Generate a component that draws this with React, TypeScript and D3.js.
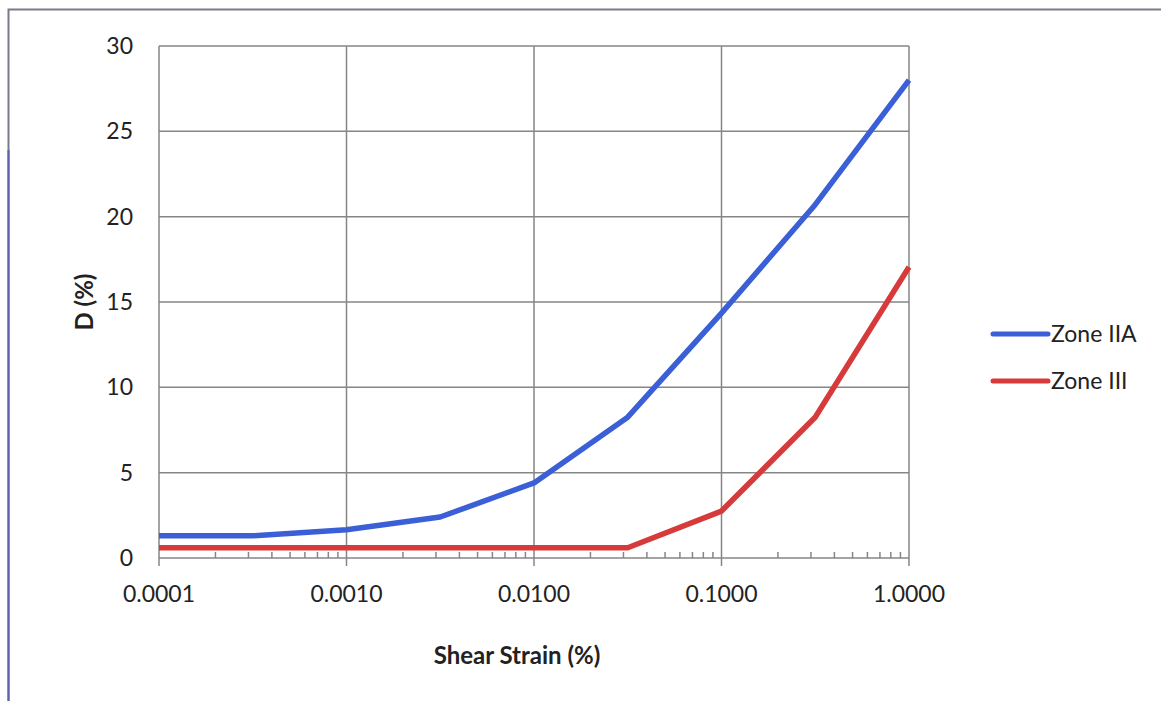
import React, { useEffect, useRef } from 'react';
import * as d3 from 'd3';

// strain values at half-decade steps (%)
const strains = [0.0001, 0.000316, 0.001, 0.00316, 0.01, 0.0316, 0.1, 0.316, 1];
const zoneIIA = [1.3, 1.3, 1.65, 2.4, 4.4, 8.25, 14.35, 20.7, 28.0];
const zoneIII = [0.6, 0.6, 0.6, 0.6, 0.6, 0.6, 2.75, 8.25, 17.05];
const xTicks = [0.0001, 0.001, 0.01, 0.1, 1];
const xTickLabels = ['0.0001', '0.0010', '0.0100', '0.1000', '1.0000'];
const yTicks = [0, 5, 10, 15, 20, 25, 30];
const seriesNames = ['Zone IIA', 'Zone III'];
const seriesColors = ['#3a5fd6', '#d63a3a'];

const App = () => {
  const svgRef = useRef(null);

  useEffect(() => {
    const W = 1161;
    const H = 701;
    const svg = d3.select(svgRef.current);
    svg.selectAll('*').remove();

    const font = 'Lato, "Open Sans", sans-serif';
    const margin = { top: 46, left: 159, right: 252, bottom: 143 };

    // outer frame
    svg.append('rect')
      .attr('x', 8.5).attr('y', 9.5)
      .attr('width', W + 20).attr('height', H + 20)
      .attr('fill', 'white')
      .attr('stroke', '#7a7a8a')
      .attr('stroke-width', 2);
    svg.append('line')
      .attr('x1', 8.5).attr('x2', 8.5).attr('y1', 150).attr('y2', H)
      .attr('stroke', '#5a62b0').attr('stroke-width', 2);

    const x = d3.scaleLog()
      .domain([0.0001, 1])
      .range([margin.left, W - margin.right]);
    const y = d3.scaleLinear()
      .domain([0, 30])
      .range([H - margin.bottom, margin.top]);

    const gridColor = '#868686';

    // horizontal grid
    svg.append('g').selectAll('line')
      .data(yTicks)
      .enter()
      .append('line')
      .attr('x1', x(0.0001)).attr('x2', x(1))
      .attr('y1', d => y(d)).attr('y2', d => y(d))
      .attr('stroke', gridColor).attr('stroke-width', 1.5);

    // vertical grid + major ticks
    svg.append('g').selectAll('line')
      .data(xTicks)
      .enter()
      .append('line')
      .attr('x1', d => x(d)).attr('x2', d => x(d))
      .attr('y1', y(30)).attr('y2', y(0) + 8)
      .attr('stroke', gridColor).attr('stroke-width', 1.5);

    // minor ticks
    const minor = [];
    xTicks.slice(0, -1).forEach(dec => {
      for (let k = 2; k <= 9; k++) minor.push(dec * k);
    });
    svg.append('g').selectAll('line')
      .data(minor)
      .enter()
      .append('line')
      .attr('x1', d => x(d)).attr('x2', d => x(d))
      .attr('y1', y(0)).attr('y2', y(0) - 6)
      .attr('stroke', gridColor).attr('stroke-width', 1.5);

    // y labels
    svg.append('g').selectAll('text')
      .data(yTicks)
      .enter()
      .append('text')
      .attr('x', x(0.0001) - 26)
      .attr('y', d => y(d))
      .attr('dy', '0.35em')
      .attr('text-anchor', 'end')
      .style('font-family', font)
      .style('font-size', '23px')
      .attr('fill', '#222')
      .text(d => d);

    // x labels
    svg.append('g').selectAll('text')
      .data(xTicks)
      .enter()
      .append('text')
      .attr('x', d => x(d))
      .attr('y', y(0) + 44)
      .attr('text-anchor', 'middle')
      .style('font-family', font)
      .style('font-size', '23px')
      .attr('fill', '#222')
      .text((d, i) => xTickLabels[i]);

    // axis titles
    svg.append('text')
      .attr('x', 517).attr('y', 664)
      .attr('text-anchor', 'middle')
      .style('font-family', font)
      .style('font-size', '24px')
      .style('font-weight', 'bold')
      .attr('fill', '#222')
      .text('Shear Strain (%)');
    svg.append('text')
      .attr('transform', `translate(93,302) rotate(-90)`)
      .attr('text-anchor', 'middle')
      .style('font-family', font)
      .style('font-size', '24px')
      .style('font-weight', 'bold')
      .attr('fill', '#222')
      .text('D (%)');

    // series
    const line = d3.line()
      .x(d => x(d[0]))
      .y(d => y(d[1]));
    [zoneIIA, zoneIII].forEach((vals, i) => {
      svg.append('path')
        .datum(strains.map((s, j) => [s, vals[j]]))
        .attr('d', line)
        .attr('fill', 'none')
        .attr('stroke', seriesColors[i])
        .attr('stroke-width', 5.5)
        .attr('stroke-linejoin', 'round');
    });

    // legend
    const legend = svg.append('g')
      .selectAll('g')
      .data(seriesNames)
      .enter()
      .append('g')
      .attr('transform', (d, i) => `translate(993,${334 + i * 47})`);
    legend.append('line')
      .attr('x1', 0).attr('x2', 55)
      .attr('stroke', (d, i) => seriesColors[i])
      .attr('stroke-width', 5)
      .attr('stroke-linecap', 'round');
    legend.append('text')
      .attr('x', 58)
      .attr('dy', '0.35em')
      .style('font-family', font)
      .style('font-size', '23px')
      .attr('fill', '#222')
      .text(d => d);
  }, []);

  return (
    <svg
      ref={svgRef}
      width={1161}
      height={701}
      style={{ position: 'absolute', left: 0, top: 0, background: 'white' }}
    />
  );
};

export default App;
